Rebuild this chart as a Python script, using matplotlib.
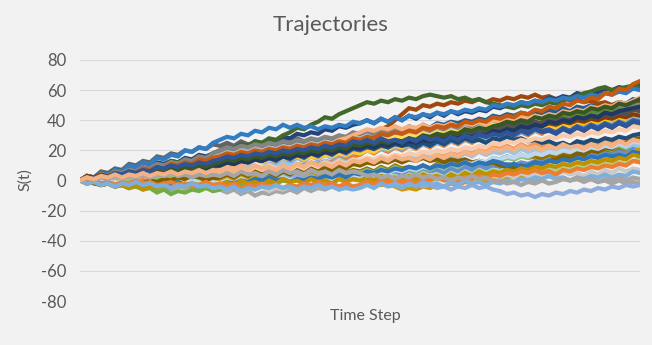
import matplotlib
matplotlib.use("Agg")
import matplotlib.pyplot as plt

# simulated paths, 81 samples per path
traj_01 = [0, 3,1,4,2,5,3,6,4,7,5,8,6,9,7,10,8,11,9,12,11,
           14,12,15,13,16,14,17,15,18,16,19,17,20,18,21,19,22,20,23,22,
           25,23,25,22,24,22,25,23,26,24,27,25,28,26,29,27,30,28,31,29,
           32,30,33,31,34,32,36,34,37,35,38,36,40,38,41,39,42,40,43,44]
traj_02 = [0, 2,-1,1,-1,2,0,2,-1,1,0,3,1,2,0,3,1,4,2,4,3,
           5,4,6,5,7,6,8,7,9,8,11,10,12,11,13,12,15,14,16,17,
           20,18,21,19,22,20,23,21,24,22,25,23,26,24,27,25,28,26,29,28,
           31,29,32,30,33,31,35,33,36,34,37,35,38,36,40,38,41,39,43,42]
traj_03 = [0, -2,0,-3,-1,-4,-2,-3,-1,-4,-2,-5,-3,-6,-4,-5,-3,-6,-4,-7,-6,
           -8,-6,-9,-7,-10,-8,-9,-7,-8,-6,-8,-5,-7,-5,-6,-4,-6,-3,-5,-4,
           -2,-4,-1,-3,0,-2,1,-1,2,0,3,1,3,1,4,2,5,3,5,4,
           2,4,1,3,0,2,3,1,2,0,1,-1,1,-1,0,-2,0,-2,-1,-2]
traj_04 = [0, 2,1,3,2,4,3,6,4,6,5,7,6,8,6,8,7,9,8,10,11,
           13,11,14,12,15,13,14,12,15,13,16,14,17,15,18,16,19,17,20,19,
           22,20,23,21,24,22,26,24,27,25,28,26,29,27,30,29,32,30,31,33,
           35,33,36,34,37,35,36,34,37,35,38,36,39,37,40,38,41,39,43,42]
traj_05 = [0, 3,1,4,2,5,3,6,5,8,6,9,7,10,9,12,10,13,12,15,16,
           18,17,19,18,21,19,22,20,23,22,25,23,26,24,27,26,29,27,28,30,
           32,30,33,31,34,32,33,31,34,32,35,33,36,34,37,35,38,36,39,38,
           41,39,42,40,43,41,45,43,46,44,47,45,48,46,49,48,51,49,50,52]
traj_06 = [0, -2,-1,-3,-2,-4,-3,-5,-4,-6,-5,-8,-6,-9,-7,-8,-6,-7,-5,-7,-6,
           -4,-5,-3,-4,-2,-3,-1,-2,0,-1,1,0,2,1,3,1,3,2,5,4,
           6,5,7,6,8,7,9,8,10,8,10,9,11,10,12,11,13,12,15,14,
           16,14,17,15,18,16,19,17,18,16,19,17,20,18,21,19,22,20,24,23]
traj_07 = [0, 3,2,4,3,5,4,7,5,8,7,9,8,11,10,12,11,14,13,16,17,
           19,18,20,19,21,20,23,21,24,22,25,24,26,25,28,26,29,28,30,31,
           33,31,34,32,35,33,36,34,37,35,38,37,39,38,40,39,41,40,43,42,
           44,43,45,44,46,44,47,45,48,46,49,48,50,49,51,50,52,51,54,53]
traj_08 = [0, 2,1,3,1,3,2,4,2,4,3,5,4,6,5,7,6,8,7,10,9,
           11,10,13,12,14,13,16,15,18,17,19,18,21,20,23,22,25,24,27,28,
           31,30,34,36,40,44,48,47,50,49,51,50,52,51,53,52,54,52,54,53,
           55,54,56,55,57,55,56,54,55,53,54,52,53,51,52,50,52,51,52,51]
traj_09 = [0, 3,2,6,5,8,7,11,10,13,12,16,15,18,17,20,19,22,21,24,23,
           25,23,26,24,25,23,26,24,27,25,28,26,27,25,28,26,29,27,31,30,
           32,30,33,31,34,32,33,31,34,32,35,33,36,34,37,35,38,36,39,38,
           40,39,41,40,42,40,43,41,44,42,45,43,46,44,45,43,46,45,47,48]
traj_10 = [0, -1,0,-2,-1,-3,-2,-3,-1,-2,0,-1,1,0,2,0,1,-1,1,0,1,
           3,1,3,2,4,2,4,3,5,3,5,4,6,4,6,5,7,5,7,6,
           8,6,9,7,10,8,9,7,10,8,11,9,12,10,13,11,12,11,13,14,
           16,14,17,15,16,14,17,15,18,16,17,15,18,16,19,17,20,18,20,19]
traj_11 = [0, 3,2,5,4,7,6,8,7,10,9,12,11,13,12,15,14,17,16,18,20,
           22,21,24,23,26,25,27,26,29,28,31,30,32,31,34,33,36,35,37,38,
           40,38,41,39,42,40,43,41,44,42,45,43,46,44,46,45,47,46,49,48,
           50,49,52,51,53,52,55,54,56,55,58,57,59,58,61,60,62,61,63,65]
traj_12 = [0, 3,2,5,4,6,5,8,7,9,8,11,10,13,12,14,13,16,15,18,20,
           22,21,24,23,26,25,28,27,30,32,35,34,37,39,42,41,44,46,48,50,
           52,51,53,52,54,53,55,54,56,57,56,55,56,54,55,53,54,52,51,50,
           49,48,50,49,51,50,52,51,53,55,56,58,59,61,62,60,61,62,63,62]
traj_13 = [0, 2,1,3,2,4,3,5,4,6,4,6,5,7,6,8,7,9,8,11,10,
           12,10,13,11,14,12,13,11,14,12,15,13,16,14,17,15,18,16,19,18,
           20,19,21,20,22,21,23,22,24,23,25,24,26,25,27,26,28,27,30,29,
           31,30,32,31,33,32,34,33,35,34,36,35,37,36,38,37,39,38,41,40]
traj_14 = [0, 1,-1,1,0,2,0,2,1,3,1,3,2,4,2,4,3,5,3,6,5,
           7,5,8,6,9,7,8,6,9,7,10,8,11,9,10,8,11,9,11,10,
           12,11,13,12,14,13,15,14,16,15,17,16,18,17,19,18,20,19,22,21,
           23,21,24,22,25,23,24,22,25,23,26,24,27,25,28,26,29,27,30,29]
traj_15 = [0, 3,2,4,3,6,5,7,6,9,8,10,9,12,11,13,12,15,14,16,17,
           19,18,20,19,21,20,22,21,23,22,24,23,25,24,26,25,27,26,29,28,
           30,28,31,29,32,30,31,29,32,30,33,31,34,32,35,33,36,34,37,36,
           38,37,39,38,40,39,41,40,42,41,43,42,44,43,45,44,46,45,48,47]
traj_16 = [0, 2,0,2,1,3,2,4,3,5,4,6,5,7,6,8,7,9,8,9,10,
           12,11,13,12,14,12,14,13,15,14,16,14,16,15,17,16,18,17,19,18,
           20,19,22,21,23,22,24,23,26,25,27,26,28,27,29,28,31,30,33,32,
           34,32,35,33,34,32,35,33,36,34,35,33,36,34,37,35,38,36,38,37]
traj_17 = [0, -2,-1,-3,-2,-4,-3,-5,-3,-4,-2,-3,-1,-2,0,-1,1,0,-2,0,-1,
           1,-1,2,0,2,1,3,1,3,2,4,2,4,3,5,3,5,4,5,4,
           6,4,7,5,6,4,7,5,8,6,7,5,8,6,9,7,10,8,10,9,
           11,10,12,11,13,12,14,13,15,14,16,15,17,16,18,17,19,18,21,20]
traj_18 = [0, -1,0,-2,-1,-3,-2,-1,0,-2,-1,1,0,2,0,1,-1,1,0,1,0,
           2,0,3,1,2,0,3,1,4,2,3,1,4,2,5,3,5,4,6,5,
           7,5,8,6,9,7,8,6,9,7,10,8,11,9,12,10,13,11,14,13,
           15,14,16,15,18,17,19,18,20,19,22,21,23,22,24,23,25,24,26,27]
traj_19 = [0, 3,2,5,4,7,6,10,9,12,11,15,14,17,16,20,19,22,21,25,27,
           29,28,31,30,33,32,35,34,37,35,37,35,36,34,36,35,37,36,39,38,
           40,38,41,39,42,40,43,42,44,43,45,44,46,45,47,46,48,47,50,49,
           51,50,52,51,53,52,54,53,55,54,56,55,57,56,58,57,59,58,61,60]
traj_20 = [0, 2,1,3,2,4,3,5,4,6,5,8,7,9,8,10,9,11,10,12,13,
           15,14,16,15,17,16,18,17,19,18,20,19,21,20,22,21,23,22,25,24,
           26,25,27,26,28,27,29,28,30,29,31,30,32,31,33,32,34,33,36,35,
           37,36,38,37,39,38,40,39,41,40,42,41,43,42,44,43,45,44,47,46]
traj_21 = [0, 3,2,4,3,6,5,7,6,9,8,11,10,12,11,14,13,16,15,18,20,
           22,21,23,22,24,23,25,24,26,25,27,26,28,27,29,28,30,29,32,31,
           33,31,34,32,35,33,34,32,35,33,36,34,37,35,38,36,39,37,40,39,
           41,40,42,41,43,42,44,43,45,44,46,45,47,46,48,47,49,48,51,50]
traj_22 = [0, -2,-1,-3,-2,-4,-3,-5,-3,-4,-2,-3,-1,-2,0,-1,1,0,2,1,0,
           2,1,3,2,4,2,3,1,3,2,4,3,4,2,3,1,2,0,1,0,
           -2,-1,-3,-2,-4,-6,-5,-6,-4,-5,-3,-4,-2,-3,-1,-2,0,-1,2,1,
           3,2,4,3,6,5,7,6,9,8,10,9,12,11,14,13,16,17,19,21]
traj_23 = [0, 2,1,3,2,4,3,6,5,7,6,8,7,9,8,10,9,11,10,13,12,
           14,12,15,13,16,14,15,13,16,14,17,15,18,16,19,17,20,18,21,20,
           22,21,23,22,24,23,25,24,26,25,27,26,28,27,29,28,30,29,32,31,
           33,31,34,32,35,33,34,32,35,33,36,34,37,35,38,36,39,37,40,39]
traj_24 = [0, 2,1,4,3,5,4,6,5,7,6,8,7,9,8,10,9,11,10,12,13,
           15,13,16,14,17,15,18,16,19,17,20,18,21,19,22,20,23,21,25,24,
           26,24,27,25,28,26,29,27,30,28,31,29,32,30,33,31,34,32,36,35,
           37,36,39,38,40,39,41,40,42,41,44,43,45,44,46,45,47,46,48,49]
traj_25 = [0, 2,0,3,1,3,2,4,2,5,3,5,4,6,4,7,5,8,6,9,8,
           10,8,11,9,10,8,11,9,12,10,11,9,12,10,13,11,14,12,14,13,
           15,13,16,14,15,13,16,14,17,15,16,14,17,15,18,16,19,17,19,18,
           20,18,21,19,20,18,21,19,22,20,21,19,22,20,23,21,24,22,24,23]
traj_26 = [0, 2,1,3,2,4,3,5,4,5,3,5,4,6,5,7,5,7,6,9,8,
           10,9,12,11,14,13,16,15,18,17,20,19,22,22,25,24,27,28,30,32,
           34,33,35,34,36,34,36,35,37,35,37,36,38,36,38,37,39,37,40,39,
           41,40,42,41,43,42,44,43,46,45,47,46,49,48,50,49,52,51,53,55]
traj_27 = [0, -1,0,-2,-1,-3,-1,-2,0,-2,-1,-3,-2,-4,-2,-3,-1,-3,-2,-5,-4,
           -6,-4,-7,-5,-6,-4,-7,-5,-6,-4,-5,-3,-5,-3,-4,-2,-4,-2,-4,-3,
           -1,-3,0,-2,1,-1,0,-2,1,-1,2,0,1,-1,2,0,3,1,3,2,
           4,2,5,3,4,2,5,3,6,4,5,3,6,4,7,5,8,6,8,7]
traj_28 = [0, 2,1,4,3,5,4,6,5,7,6,9,8,10,9,11,10,12,11,13,14,
           16,15,17,16,18,17,19,18,20,19,21,20,22,21,23,22,24,23,26,25,
           27,26,28,27,29,28,30,29,31,30,32,31,33,32,34,33,35,34,37,36,
           38,36,39,37,40,38,39,37,40,38,41,39,42,40,43,41,44,42,45,44]
traj_29 = [0, 2,0,2,1,3,1,3,2,4,2,4,3,5,3,5,4,6,4,5,4,
           6,4,5,3,5,3,4,2,4,2,3,1,3,1,2,0,2,0,3,2,
           0,1,-1,0,-2,-1,-3,-2,-4,-3,-5,-4,-6,-4,-5,-3,-5,-4,-6,-7,
           -9,-8,-10,-9,-11,-9,-10,-8,-9,-7,-8,-6,-7,-5,-6,-4,-5,-3,-4,-3]
traj_30 = [0, -2,-1,-3,-1,-2,0,-2,-1,-3,-2,-4,-2,-3,-1,-3,-2,-4,-3,-3,-2,
           0,-2,1,-1,0,-2,1,-1,2,0,1,-1,2,0,1,-1,2,0,2,1,
           3,1,4,2,3,1,4,2,5,3,4,2,5,3,6,4,7,5,7,6,
           8,6,9,7,10,8,9,7,10,8,11,9,12,10,13,11,12,11,13,14]
traj_31 = [0, 2,1,3,2,4,3,5,3,5,4,6,5,7,5,7,6,8,7,9,10,
           12,11,13,12,14,13,15,14,16,15,17,16,18,17,19,18,20,19,22,21,
           23,21,24,22,25,23,24,22,25,23,26,24,27,25,28,26,27,25,28,27,
           29,27,28,26,27,25,26,24,25,23,26,25,27,26,28,27,29,28,30,31]
traj_32 = [0, 3,2,4,3,5,4,6,5,7,6,8,7,9,8,10,9,12,11,13,14,
           16,14,17,15,18,16,17,15,18,16,19,17,20,18,21,19,22,20,23,22,
           24,23,25,24,26,25,27,26,28,27,29,28,30,29,31,30,32,31,34,33,
           35,34,36,35,37,36,38,37,39,38,40,39,41,40,42,41,43,42,44,43]
traj_33 = [0, 2,1,3,2,4,3,5,4,6,5,7,5,7,6,8,7,9,8,11,10,
           12,11,13,12,14,13,15,14,16,15,17,16,18,17,19,18,20,19,22,21,
           23,22,24,23,26,25,27,26,29,28,30,29,31,30,32,31,33,32,34,35,
           37,36,38,37,39,38,40,39,41,40,42,41,43,42,44,43,45,44,47,46]
traj_34 = [0, -1,-2,-3,-2,-4,-2,-3,-1,-2,0,-1,1,0,2,1,3,2,0,1,2,
           4,2,5,3,6,4,5,3,6,4,7,5,8,6,9,7,10,8,11,10,
           12,11,13,12,14,12,14,13,15,13,14,12,14,13,14,12,13,11,12,10,
           9,8,10,9,12,11,13,14,16,15,18,17,20,19,22,21,24,25,27,28]
traj_35 = [0, 2,1,3,2,4,3,5,4,6,5,6,5,7,6,8,7,9,8,11,10,
           12,11,13,12,14,13,15,14,16,15,17,16,18,17,19,18,20,19,22,21,
           23,22,24,23,25,24,26,25,27,26,28,27,29,28,30,29,31,30,33,32,
           34,33,36,35,37,36,39,38,40,39,42,41,43,42,45,44,46,47,48,49]
traj_36 = [0, 2,1,3,2,4,3,5,4,6,5,7,6,8,7,9,8,10,9,11,12,
           14,13,15,14,16,15,17,16,18,17,19,18,20,19,21,20,22,21,24,23,
           25,24,26,25,27,26,28,27,30,29,31,30,32,31,34,33,35,34,36,37,
           39,38,40,39,42,41,43,42,45,44,46,45,48,47,49,48,51,50,52,54]
traj_37 = [0, 1,0,-1,0,-2,-1,-3,-1,-2,-3,-4,-2,-3,-1,-2,0,-1,-3,-1,-2,
           0,-2,1,-1,0,-2,1,-1,2,0,1,-1,2,0,3,1,4,2,4,3,
           5,4,6,5,7,6,8,7,9,8,10,9,11,10,12,11,13,12,15,14,
           16,15,17,16,18,17,19,18,20,19,21,20,22,21,23,22,24,23,26,25]
traj_38 = [0, 2,0,2,1,3,1,3,2,4,2,4,3,5,3,5,4,6,4,6,5,
           7,5,8,6,9,7,10,8,9,7,10,8,11,9,12,10,13,11,14,13,
           15,14,16,15,17,16,18,17,19,18,20,19,21,20,22,21,23,22,25,24,
           26,25,27,26,28,27,29,28,30,29,31,30,32,31,33,32,34,33,36,35]
traj_39 = [0, -1,0,-2,-1,-3,-2,-4,-3,-5,-3,-4,-2,-3,-1,-3,-2,-4,-2,-4,-3,
           -1,-2,0,-1,1,0,2,0,1,-1,1,0,2,1,3,2,4,2,5,4,
           6,5,7,6,8,7,9,8,10,8,10,9,11,10,12,10,12,11,13,12,
           10,11,9,10,12,11,13,12,14,13,15,14,16,15,17,16,17,16,19,18]
traj_40 = [0, 2,1,3,2,5,4,6,5,8,7,9,8,11,10,12,11,14,13,15,16,
           18,17,19,18,20,19,21,20,22,21,23,22,24,23,25,24,26,25,28,27,
           29,28,31,30,32,31,33,32,35,34,36,35,37,36,39,38,40,39,42,41,
           43,42,45,44,47,46,49,48,51,50,53,52,55,54,58,57,61,60,64,66]
traj_41 = [0, -2,-1,-3,-2,-4,-3,-5,-3,-6,-4,-5,-3,-5,-2,-4,-2,-3,-1,-4,-3,
           -1,-3,0,-2,-1,-3,0,-2,1,-1,0,-2,1,-1,0,-2,1,-1,1,0,
           2,0,3,1,2,0,3,1,4,2,3,1,4,2,5,3,6,4,6,5,
           7,6,8,7,9,8,10,9,11,10,12,11,13,12,14,13,15,14,17,16]
traj_42 = [0, 2,1,3,2,5,4,6,5,7,6,9,8,10,9,11,10,12,11,13,14,
           16,15,17,16,18,17,19,18,20,19,21,20,22,21,23,22,24,23,26,25,
           27,25,28,26,27,25,28,26,29,27,28,26,29,27,30,28,31,29,31,30,
           32,30,33,31,34,32,33,31,34,32,35,33,36,34,37,35,38,36,39,38]
traj_43 = [0, -1,0,-2,-1,-3,-1,-2,0,-2,-1,-3,-2,-1,-3,-2,-4,-3,-1,-3,-2,
           -4,-2,-5,-3,-4,-2,-4,-3,-5,-3,-4,-2,-3,-1,-3,-2,-4,-2,-4,-3,
           -1,-2,0,-1,1,-1,0,-2,1,0,2,0,1,-1,2,1,3,1,4,3,
           5,4,6,5,7,5,6,4,7,6,8,7,9,8,10,9,11,10,13,12]
traj_44 = [0, -2,-1,-3,-2,-4,-2,-3,-1,-3,-2,-4,-3,-5,-3,-4,-2,-4,-3,-5,-4,
           -6,-4,-7,-5,-6,-4,-5,-3,-5,-4,-6,-4,-5,-3,-5,-4,-6,-5,-6,-5,
           -3,-5,-2,-4,-3,-5,-2,-4,-1,-3,-2,-4,-1,-3,0,-2,-1,-3,-1,-2,
           0,-1,1,0,2,1,3,1,2,0,2,1,3,2,4,2,4,3,6,5]
traj_45 = [0, 2,0,2,1,3,1,3,2,4,2,4,3,5,3,4,2,4,3,4,3,
           5,3,6,4,5,3,6,4,7,5,6,4,7,5,6,4,7,5,6,5,
           3,4,2,3,1,3,2,4,2,3,1,2,0,2,1,3,1,2,-1,0,
           -2,-1,-3,-1,-2,0,-2,-1,1,0,2,0,1,-1,1,0,2,0,2,1]
traj_46 = [0, 2,1,3,2,4,2,4,3,5,3,5,4,6,4,6,5,7,5,7,6,
           8,6,9,7,10,8,9,7,10,8,11,9,12,10,11,9,12,10,13,12,
           14,12,15,13,16,14,15,13,16,14,17,15,18,16,19,17,20,18,21,20,
           22,20,23,21,22,20,23,21,24,22,23,21,24,22,25,23,26,24,27,26]

paths = [traj_01, traj_02, traj_03, traj_04, traj_05, traj_06, traj_07,
         traj_08, traj_09, traj_10, traj_11, traj_12, traj_13, traj_14,
         traj_15, traj_16, traj_17, traj_18, traj_19, traj_20, traj_21,
         traj_22, traj_23, traj_24, traj_25, traj_26, traj_27, traj_28,
         traj_29, traj_30, traj_31, traj_32, traj_33, traj_34, traj_35,
         traj_36, traj_37, traj_38, traj_39, traj_40, traj_41, traj_42,
         traj_43, traj_44, traj_45, traj_46]

y_ticks = [-80, -60, -40, -20, 0, 20, 40, 60, 80]

# office-style series colours, one per path
palette = ["#5B9BD5", "#ED7D31", "#A5A5A5", "#FFC000", "#4472C4", "#70AD47",
           "#255E91", "#9E480E", "#636363", "#997300", "#264478", "#43682B",
           "#7CAFDD", "#F1975A", "#B7B7B7", "#FFCD33", "#698ED0", "#8CC168",
           "#327DC2", "#D26012", "#848484", "#CC9A00", "#3A5DA2", "#5A8A39",
           "#9DC3E6", "#F4B183", "#C9C9C9", "#FFD966", "#8FAADC", "#A9D18E",
           "#1F4E79", "#843C0C", "#525252", "#7F6000", "#203864", "#385723",
           "#BDD7EE", "#F8CBAD", "#2E75B6", "#C55A11", "#BF9000", "#2F5597",
           "#ED7D31", "#7CAFDD", "#A5A5A5", "#F4B183"]

txt = "#595959"
plt.rcParams['font.family'] = ['Lato', 'DejaVu Sans']

fig = plt.figure(figsize=(6.52, 3.45), dpi=100)
fig.patch.set_facecolor("#F2F2F2")
ax = fig.add_axes([80/652, 1 - 301/345, 560/652, 241/345])
ax.set_facecolor("#F2F2F2")

for i, p in enumerate(paths):
    ax.plot(range(len(p)), p, color=palette[i % len(palette)], lw=3.0,
            solid_joinstyle="miter", zorder=3)

ax.set_xlim(0, 80)
ax.set_ylim(-80, 80)
ax.set_yticks(y_ticks)
ax.set_yticklabels([str(v) for v in y_ticks], color=txt, fontsize=12)
ax.tick_params(axis="y", length=0, pad=10)
ax.set_xticks([])
ax.grid(axis="y", color="#D9D9D9", lw=0.8, zorder=0)
for s in ax.spines.values():
    s.set_visible(False)

fig.text(331/652, 1 - 25/345, "Trajectories", ha="center", va="center",
         fontsize=16, color=txt)
fig.text(365/652, 1 - 316/345, "Time Step", ha="center", va="center",
         fontsize=11.5, color=txt)
fig.text(25/652, 1 - 180/345, "S(t)", ha="center", va="center",
         rotation=90, fontsize=11.5, color=txt)

fig.savefig("out.png", dpi=100, facecolor=fig.get_facecolor())
